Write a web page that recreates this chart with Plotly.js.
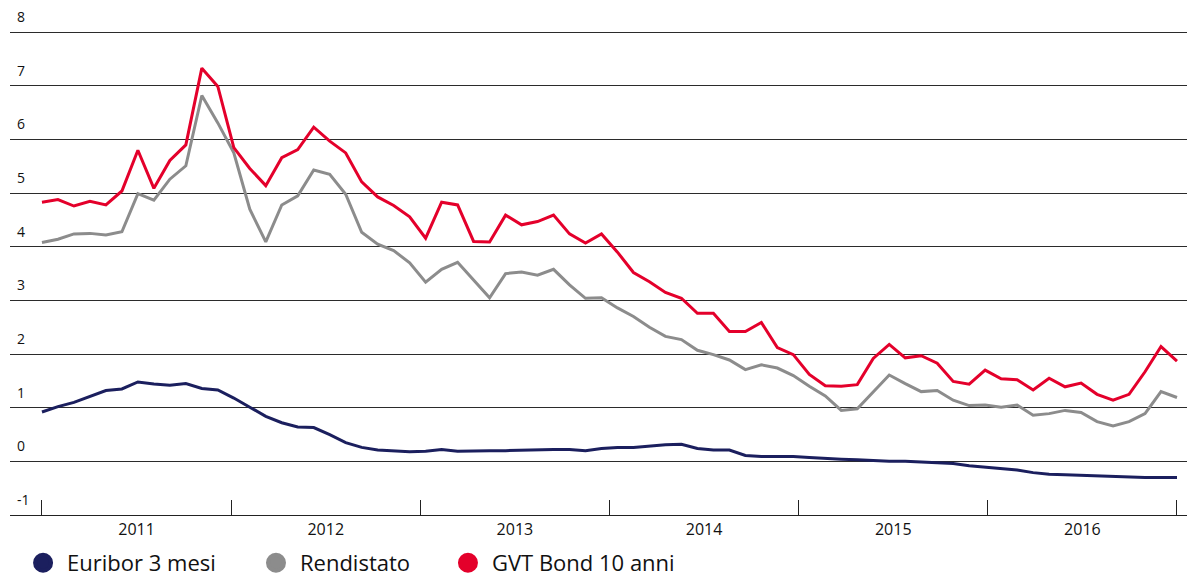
<!DOCTYPE html>
<html>
<head>
<meta charset="utf-8">
<script src="https://cdn.plot.ly/plotly-3.0.1.min.js"></script>
<style>
html, body { margin: 0; padding: 0; background: #ffffff; }
#chart { width: 1187px; height: 577px; }
</style>
</head>
<body>
<div id="chart"></div>
<script>
// ---- data (monthly, Jan 2011 - Dec 2016) ----
const years = ['2011', '2012', '2013', '2014', '2015', '2016'];
const months = [];
years.forEach(function (y) {
  for (let m = 1; m <= 12; m++) months.push(y + '-' + String(m).padStart(2, '0'));
});

const euribor3m = [
  0.92, 1.02, 1.10, 1.21, 1.32, 1.35, 1.48, 1.44, 1.42, 1.45, 1.36, 1.33,
  1.18, 1.01, 0.84, 0.72, 0.64, 0.63, 0.50, 0.35, 0.26, 0.21, 0.19, 0.18,
  0.19, 0.22, 0.19, 0.20, 0.20, 0.20, 0.21, 0.22, 0.22, 0.22, 0.20, 0.24,
  0.26, 0.26, 0.29, 0.31, 0.32, 0.24, 0.21, 0.21, 0.11, 0.09, 0.09, 0.09,
  0.07, 0.05, 0.04, 0.03, 0.01, 0.00, 0.00, -0.01, -0.03, -0.04, -0.08, -0.11,
  -0.13, -0.16, -0.21, -0.24, -0.25, -0.26, -0.28, -0.29, -0.29, -0.30, -0.30, -0.30
];

const rendistato = [
  4.08, 4.14, 4.24, 4.25, 4.22, 4.28, 4.99, 4.87, 5.26, 5.51, 6.82, 6.31,
  5.75, 4.70, 4.09, 4.78, 4.95, 5.43, 5.35, 4.98, 4.27, 4.05, 3.93, 3.70,
  3.34, 3.58, 3.71, 3.38, 3.05, 3.50, 3.53, 3.47, 3.58, 3.29, 3.04, 3.05,
  2.86, 2.70, 2.50, 2.33, 2.27, 2.07, 1.99, 1.89, 1.71, 1.80, 1.74, 1.60,
  1.40, 1.22, 0.95, 0.98, 1.30, 1.61, 1.45, 1.30, 1.32, 1.14, 1.04, 1.05,
  1.01, 1.05, 0.86, 0.89, 0.95, 0.91, 0.74, 0.66, 0.74, 0.89, 1.30, 1.19
];

const gvtBond10 = [
  4.83, 4.88, 4.76, 4.85, 4.78, 5.04, 5.80, 5.09, 5.61, 5.90, 7.33, 6.99,
  5.85, 5.46, 5.14, 5.66, 5.81, 6.23, 5.97, 5.75, 5.21, 4.93, 4.77, 4.56,
  4.16, 4.83, 4.78, 4.10, 4.09, 4.59, 4.41, 4.47, 4.59, 4.24, 4.07, 4.24,
  3.90, 3.52, 3.35, 3.15, 3.04, 2.76, 2.76, 2.42, 2.42, 2.59, 2.12, 1.99,
  1.62, 1.41, 1.40, 1.43, 1.92, 2.18, 1.93, 1.97, 1.83, 1.49, 1.44, 1.70,
  1.54, 1.52, 1.33, 1.55, 1.39, 1.46, 1.25, 1.14, 1.25, 1.67, 2.14, 1.87
];

const seriesNames = ['Euribor 3 mesi', 'Rendistato', 'GVT Bond 10 anni'];
const seriesValues = [euribor3m, rendistato, gvtBond10];
const seriesColors = ['#1b1f5e', '#8c8c8c', '#e4002b'];
const yTickValues = [-1, 0, 1, 2, 3, 4, 5, 6, 7, 8];

// ---- derived axis helpers ----
const xIdx = months.map(function (_, i) { return i; });
const span = months.length - 1;
const yearBounds = years.map(function (_, k) { return k * span / years.length; }).concat([span]);
const yearMids = years.map(function (_, k) { return (k + 0.5) * span / years.length; });

const FONT = '"Open Sans", "DejaVu Sans", sans-serif';

const traces = [];
seriesNames.forEach(function (name, k) {
  traces.push({
    type: 'scatter', mode: 'lines', name: name,
    x: xIdx, y: seriesValues[k], text: months,
    line: { color: seriesColors[k], width: 3 },
    showlegend: false, legendgroup: 'g' + k,
    hovertemplate: '%{text}: %{y}<extra>' + name + '</extra>'
  });
});
const legendIds = ['legend', 'legend2', 'legend3'];
seriesNames.forEach(function (name, k) {
  traces.push({
    type: 'scatter', mode: 'markers', name: name,
    x: [null], y: [null],
    marker: { color: seriesColors[k], size: 16, line: { color: seriesColors[k], width: 4 } },
    showlegend: true, legendgroup: 'g' + k, legend: legendIds[k]
  });
});

function legendAt(xPaper) {
  return {
    x: xPaper, xanchor: 'left',
    yref: 'container', y: 1 - 563 / 577, yanchor: 'middle',
    orientation: 'h', itemwidth: 38, itemsizing: 'trace',
    bgcolor: 'rgba(0,0,0,0)', borderwidth: 0,
    font: { family: FONT, size: 22, color: '#111111' }
  };
}

const layout = {
  width: 1187, height: 577,
  margin: { l: 10, r: 0, t: 29, b: 62, pad: 0, autoexpand: false },
  paper_bgcolor: '#ffffff', plot_bgcolor: '#ffffff',
  font: { family: FONT, color: '#111111' },
  showlegend: true,
  legend: legendAt(0.0077),
  legend2: legendAt(0.2056),
  legend3: legendAt(0.3687),
  xaxis: {
    range: [-2.0, span + 0.626],
    tickmode: 'array', tickvals: yearMids, ticktext: years,
    ticks: '', showgrid: false, zeroline: false,
    showline: true, linecolor: '#222222', linewidth: 1,
    tickfont: { family: FONT, size: 16, color: '#111111' },
    ticklabelstandoff: 0,
    minor: { tickmode: 'array', tickvals: yearBounds, ticks: 'inside', ticklen: 15, tickwidth: 1, tickcolor: '#222222', showgrid: false },
    fixedrange: true
  },
  yaxis: {
    range: [-1, 8.06],
    tickmode: 'array', tickvals: yTickValues, ticktext: yTickValues.map(String),
    ticks: '', showgrid: true, gridcolor: '#2b2b2b', gridwidth: 1,
    zeroline: false, showline: false,
    ticklabelposition: 'inside', ticklabelstandoff: 4, ticklabelshift: -15,
    ticklabeloverflow: 'allow',
    tickfont: { family: FONT, size: 14, color: '#111111' },
    fixedrange: true
  },
  hovermode: false
};

Plotly.newPlot('chart', traces, layout, { displayModeBar: false, staticPlot: true });
</script>
</body>
</html>
